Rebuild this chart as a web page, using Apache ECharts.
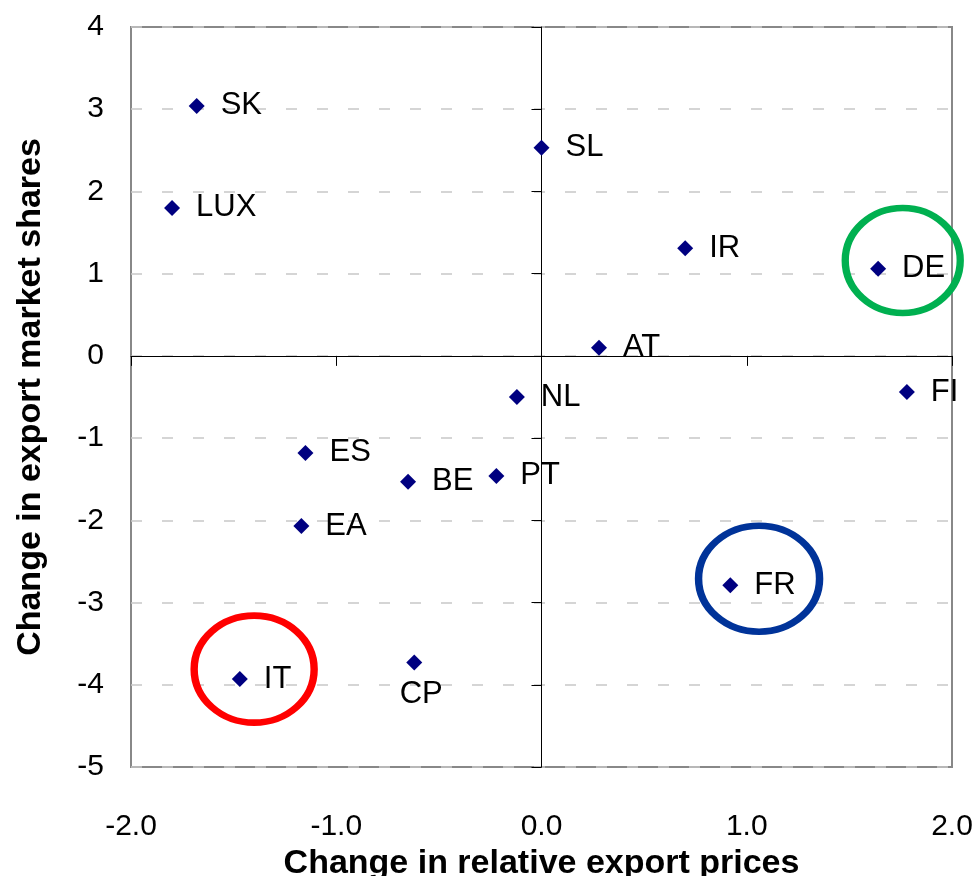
<!DOCTYPE html>
<html><head><meta charset="utf-8">
<script src="https://cdn.jsdelivr.net/npm/echarts@6/dist/echarts.min.js"></script>
<style>html,body{margin:0;padding:0;background:#fff}#c{width:978px;height:876px}</style>
</head><body><div id="c"></div>
<script>
// ---- data ----
const countries   = ['SK','LUX','SL','IR','DE','AT','FI','NL','ES','BE','PT','EA','FR','IT','CP'];
const priceChange = [-1.68,-1.80,0.00,0.70,1.64,0.28,1.78,-0.12,-1.15,-0.65,-0.22,-1.17,0.92,-1.47,-0.62];
const shareChange = [3.04,1.80,2.53,1.31,1.06,0.10,-0.44,-0.50,-1.18,-1.53,-1.46,-2.07,-2.79,-3.93,-3.73];
const xTickLabels = ['-2.0','-1.0','0.0','1.0','2.0'];
const yTickLabels = ['-5','-4','-3','-2','-1','0','1','2','3','4'];
// highlighted countries (ellipse centres in data units)
const highlightNames = ['DE','FR','IT'];
const highlightX = [1.76, 1.06, -1.40];
const highlightY = [1.16, -2.71, -3.81];

// ---- styles ----
const FONT = '"Liberation Sans", Arial, sans-serif';
const ringStyle = {
  DE: {color:'#00B050', size:[115,105]},
  FR: {color:'#003399', size:[121,106]},
  IT: {color:'#FF0000', size:[120,107]}
};

const xVals = [-2,-1,0,1,2];
const yVals = [-5,-4,-3,-2,-1,0,1,2,3,4];

const chart = echarts.init(document.getElementById('c'), null, {renderer:'canvas'});
chart.setOption({
  animation:false,
  backgroundColor:'#fff',
  grid:{left:131, right:26, top:27, bottom:109, show:true, borderColor:'#888888', borderWidth:2, backgroundColor:'transparent', outerBoundsMode:'none'},
  xAxis:[
    {type:'value', min:-2, max:2, interval:1, position:'bottom',
     axisLine:{show:false, onZero:false}, axisTick:{show:false}, splitLine:{show:false},
     axisLabel:{fontFamily:FONT, fontSize:30, color:'#000', margin:45,
       formatter:v=>xTickLabels[xVals.indexOf(Math.round(v))]},
     name:'Change in relative export prices', nameLocation:'middle', nameGap:73,
     nameTextStyle:{fontFamily:FONT, fontSize:34, fontWeight:'bold', color:'#000'}},
    {type:'value', min:-2, max:2, interval:1, position:'bottom',
     axisLine:{show:true, onZero:true, onZeroAxisIndex:0, lineStyle:{color:'#000', width:1}},
     axisTick:{show:true, length:10, lineStyle:{color:'#000', width:1}},
     axisLabel:{show:false}, splitLine:{show:false}}
  ],
  yAxis:[
    {type:'value', min:-5, max:4, interval:1, position:'left',
     axisLine:{show:false, onZero:false}, axisTick:{show:false},
     splitLine:{show:true, lineStyle:{color:'#C8C8C8', width:1.5, type:[11,20]}},
     axisLabel:{fontFamily:FONT, fontSize:30, color:'#000', margin:27,
       formatter:v=>yTickLabels[yVals.indexOf(Math.round(v))]},
     name:'Change in export market shares', nameLocation:'middle', nameGap:83, nameRotate:90,
     nameTextStyle:{fontFamily:FONT, fontSize:34, fontWeight:'bold', color:'#000'}},
    {type:'value', min:-5, max:4, interval:1, position:'left',
     axisLine:{show:true, onZero:true, onZeroAxisIndex:0, lineStyle:{color:'#000', width:1}},
     axisTick:{show:true, length:10, lineStyle:{color:'#000', width:1}},
     axisLabel:{show:false}, splitLine:{show:false}}
  ],
  series:[
    {type:'scatter', xAxisIndex:0, yAxisIndex:0, symbol:'diamond', symbolSize:16,
     itemStyle:{color:'#000080', opacity:1}, z:4,
     label:{show:true, position:'right', distance:16, formatter:'{b}',
       fontFamily:FONT, fontSize:31, color:'#000'},
     data:countries.map((n,i)=>{
       const d = {name:n, value:[priceChange[i], shareChange[i]]};
       if (n==='CP') d.label = {position:'bottom', distance:8, offset:[7,0]};
       return d;
     })},
    {type:'scatter', xAxisIndex:0, yAxisIndex:0, symbol:'circle', clip:false, silent:true, z:3,
     label:{show:false},
     data:highlightNames.map((n,i)=>({
       name:n, value:[highlightX[i], highlightY[i]],
       symbolSize:ringStyle[n].size,
       itemStyle:{color:'rgba(0,0,0,0)', borderColor:ringStyle[n].color, borderWidth:7, opacity:1}
     }))}
  ]
});
</script>
</body></html>
